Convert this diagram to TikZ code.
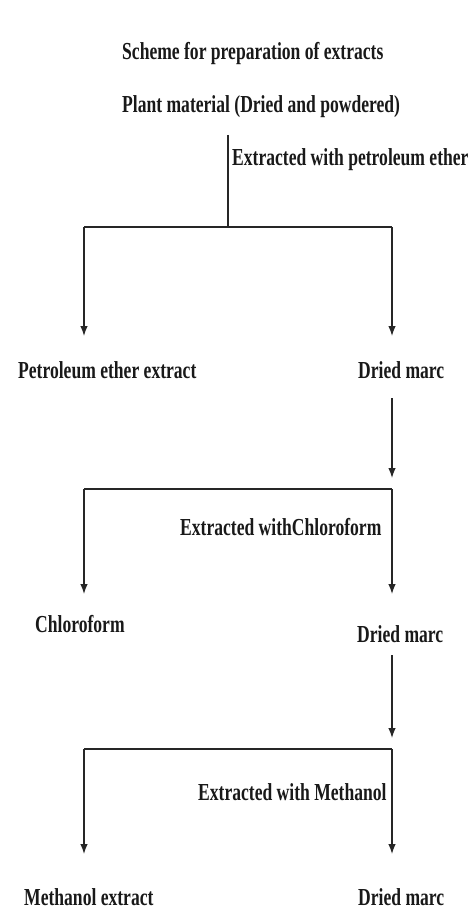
\documentclass[tikz,border=0pt]{standalone}
\usepackage{fontspec}
\setmainfont{Liberation Serif}[FakeStretch=0.72]
\usetikzlibrary{arrows.meta}
\tikzset{
  lbl/.style={anchor=base west, inner sep=0pt, font=\fontsize{24.4}{28}\selectfont\bfseries, text=black!90},
  conn/.style={line width=1.3pt, black!85},
  arr/.style={conn, -{Latex[length=10pt,width=7.5pt]}}
}
\begin{document}
\begin{tikzpicture}[x=1pt,y=-1pt]
\clip (0,0) rectangle (468,909);
\fill[white] (0,0) rectangle (468,909);
% texts
\node[lbl] (title) at (122,60) {Scheme for preparation of extracts};
\node[lbl] (plant) at (122,113) {Plant material (Dried and powdered)};
\node[lbl] (pelabel) at (232,166) {Extracted with petroleum ether};
\node[lbl] (peext) at (18,378) {Petroleum ether extract};
\node[lbl] (dm1) at (358,378) {Dried marc};
\node[lbl] (chlabel) at (180,535) {Extracted withChloroform};
\node[lbl] (chext) at (35,632) {Chloroform};
\node[lbl] (dm2) at (357,642) {Dried marc};
\node[lbl] (melabel) at (198,800) {Extracted with Methanol};
\node[lbl] (meext) at (24,905) {Methanol extract};
\node[lbl] (dm3) at (358,905) {Dried marc};
% junction coordinates
\coordinate (s0) at (228,135);
\coordinate (j1) at (228,227);
\coordinate (L1) at (84,227);
\coordinate (R1) at (392,227);
\coordinate (a1) at (84,336);
\coordinate (b1) at (392,336);
\coordinate (c1s) at (392,398);
\coordinate (c1e) at (392,478);
\coordinate (L2) at (84,489);
\coordinate (R2) at (392,489);
\coordinate (a2) at (84,594);
\coordinate (b2) at (392,594);
\coordinate (c2s) at (392,655);
\coordinate (c2e) at (392,738);
\coordinate (L3) at (84,749);
\coordinate (R3) at (392,749);
\coordinate (a3) at (84,854);
\coordinate (b3) at (392,854);
% connectors
\draw[conn] (s0) -- (j1);
\draw[conn] (L1) -- (R1);
\draw[arr] (L1) -- (a1);
\draw[arr] (R1) -- (b1);
\draw[arr] (c1s) -- (c1e);
\draw[conn] (L2) -- (R2);
\draw[arr] (L2) -- (a2);
\draw[arr] (R2) -- (b2);
\draw[arr] (c2s) -- (c2e);
\draw[conn] (L3) -- (R3);
\draw[arr] (L3) -- (a3);
\draw[arr] (R3) -- (b3);
\end{tikzpicture}
\end{document}
